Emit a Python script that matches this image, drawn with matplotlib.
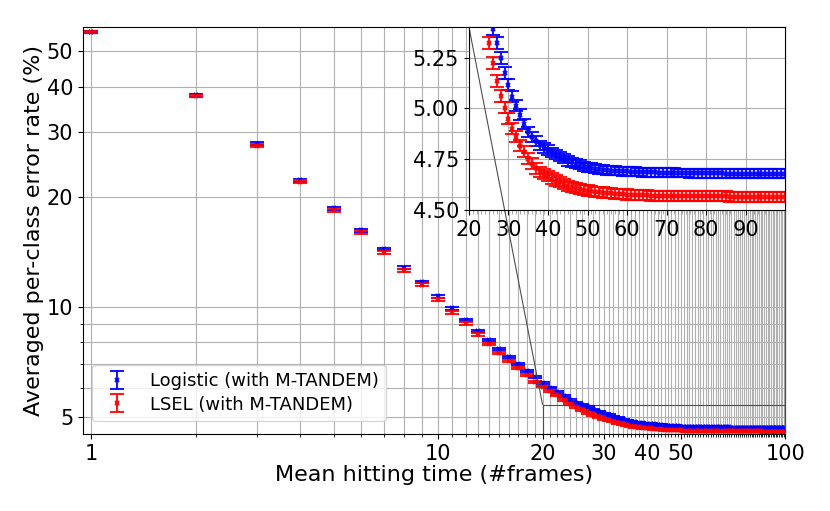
import matplotlib
matplotlib.use("Agg")
import matplotlib.pyplot as plt
from matplotlib.ticker import FixedLocator, NullFormatter, FixedFormatter
from mpl_toolkits.axes_grid1.inset_locator import mark_inset

hitting_time = list(range(1, 101))

logistic_err_rate = [
    56.4, 37.9, 27.9, 22.2, 18.6, 16.2, 14.4, 12.8, 11.7, 10.7,
    9.92, 9.22, 8.61, 8.12, 7.67, 7.31, 6.97, 6.68, 6.43, 6.19,
    6.02, 5.85, 5.70, 5.57, 5.47, 5.39, 5.322, 5.248, 5.175, 5.116,
    5.057, 5.013, 4.969, 4.925, 4.885, 4.860, 4.838, 4.818, 4.805, 4.795,
    4.784, 4.773, 4.763, 4.752, 4.742, 4.735, 4.728, 4.722, 4.716, 4.711,
    4.707, 4.703, 4.700, 4.698, 4.696, 4.694, 4.693, 4.692, 4.691, 4.690,
    4.689, 4.688, 4.687, 4.686, 4.686, 4.685, 4.685, 4.684, 4.684, 4.683,
    4.683, 4.683, 4.682, 4.682, 4.682, 4.681, 4.681, 4.681, 4.681, 4.680,
    4.680, 4.680, 4.680, 4.680, 4.679, 4.679, 4.679, 4.679, 4.679, 4.679,
    4.678, 4.678, 4.678, 4.678, 4.678, 4.678, 4.678, 4.678, 4.678, 4.678,
]

lsel_err_rate = [
    56.4, 37.7, 27.6, 22.0, 18.4, 16.0, 14.1, 12.6, 11.5, 10.5,
    9.67, 9.02, 8.42, 7.92, 7.50, 7.12, 6.80, 6.52, 6.25, 6.06,
    5.89, 5.73, 5.57, 5.43, 5.32, 5.222, 5.135, 5.062, 5.003, 4.949,
    4.900, 4.861, 4.817, 4.787, 4.753, 4.728, 4.705, 4.688, 4.676, 4.666,
    4.655, 4.645, 4.636, 4.628, 4.619, 4.613, 4.608, 4.603, 4.599, 4.596,
    4.593, 4.590, 4.588, 4.586, 4.584, 4.582, 4.580, 4.579, 4.578, 4.576,
    4.575, 4.574, 4.573, 4.572, 4.572, 4.571, 4.571, 4.570, 4.570, 4.569,
    4.569, 4.569, 4.568, 4.568, 4.568, 4.568, 4.568, 4.567, 4.567, 4.567,
    4.567, 4.567, 4.567, 4.567, 4.567, 4.566, 4.566, 4.566, 4.566, 4.566,
    4.566, 4.566, 4.566, 4.566, 4.566, 4.566, 4.566, 4.566, 4.566, 4.566,
]

logistic_std = [
    0.35, 0.30, 0.25, 0.20, 0.17, 0.15, 0.13, 0.11, 0.10, 0.09,
    0.08, 0.07, 0.065, 0.06, 0.055, 0.05, 0.045, 0.04, 0.038, 0.036,
    0.034, 0.032, 0.031, 0.030, 0.030, 0.029, 0.029, 0.028, 0.028, 0.027,
    0.027, 0.026, 0.026, 0.025, 0.025, 0.025, 0.024, 0.024, 0.024, 0.024,
    0.023, 0.023, 0.023, 0.023, 0.023, 0.023, 0.022, 0.022, 0.022, 0.022,
    0.022, 0.022, 0.022, 0.022, 0.022, 0.022, 0.022, 0.022, 0.022, 0.022,
    0.022, 0.022, 0.022, 0.022, 0.022, 0.022, 0.022, 0.022, 0.022, 0.022,
    0.022, 0.022, 0.022, 0.022, 0.022, 0.022, 0.022, 0.022, 0.022, 0.022,
    0.022, 0.022, 0.022, 0.022, 0.022, 0.022, 0.022, 0.022, 0.022, 0.022,
    0.022, 0.022, 0.022, 0.022, 0.022, 0.022, 0.022, 0.022, 0.022, 0.022,
]

lsel_std = [
    0.35, 0.30, 0.25, 0.20, 0.17, 0.15, 0.13, 0.11, 0.10, 0.09,
    0.08, 0.07, 0.065, 0.06, 0.055, 0.05, 0.045, 0.04, 0.038, 0.036,
    0.034, 0.032, 0.031, 0.030, 0.030, 0.030, 0.029, 0.029, 0.028, 0.028,
    0.028, 0.027, 0.027, 0.027, 0.026, 0.026, 0.026, 0.026, 0.025, 0.025,
    0.025, 0.025, 0.025, 0.025, 0.025, 0.025, 0.025, 0.025, 0.025, 0.025,
    0.025, 0.025, 0.025, 0.025, 0.025, 0.025, 0.025, 0.025, 0.025, 0.025,
    0.025, 0.025, 0.025, 0.025, 0.025, 0.025, 0.025, 0.025, 0.025, 0.025,
    0.025, 0.025, 0.025, 0.025, 0.025, 0.025, 0.025, 0.025, 0.025, 0.025,
    0.025, 0.025, 0.025, 0.025, 0.025, 0.025, 0.025, 0.025, 0.025, 0.025,
    0.025, 0.025, 0.025, 0.025, 0.025, 0.025, 0.025, 0.025, 0.025, 0.025,
]

series_labels = ["Logistic (with M-TANDEM)", "LSEL (with M-TANDEM)"]
main_xtick_labels = [1, 10, 20, 30, 40, 50, 100]
main_ytick_labels = [5, 10, 20, 30, 40, 50]
main_yminor = [6, 7, 8, 9]
inset_xticks = [20, 30, 40, 50, 60, 70, 80, 90]
inset_yticks = [4.50, 4.75, 5.00, 5.25]

fig = plt.figure(figsize=(8.3, 5.11), dpi=100)
ax = fig.add_axes([0.100, 0.151, 0.846, 0.796])

eb_kw = dict(fmt='x', markersize=3, markeredgewidth=1.5, capsize=5,
             elinewidth=1.5, capthick=1.5, alpha=0.9)

def draw(a):
    a.errorbar(hitting_time, logistic_err_rate, yerr=logistic_std, color='b',
               label=series_labels[0], **eb_kw)
    a.errorbar(hitting_time, lsel_err_rate, yerr=lsel_std, color='r',
               label=series_labels[1], **eb_kw)

draw(ax)
ax.set_xscale('log')
ax.set_yscale('log')
ax.set_xlim(0.948, 100)
ax.set_ylim(4.5, 58.2)

ax.xaxis.set_major_locator(FixedLocator(main_xtick_labels))
ax.xaxis.set_major_formatter(FixedFormatter([str(v) for v in main_xtick_labels]))
ax.xaxis.set_minor_locator(FixedLocator(hitting_time))
ax.xaxis.set_minor_formatter(NullFormatter())
ax.yaxis.set_major_locator(FixedLocator(main_ytick_labels))
ax.yaxis.set_major_formatter(FixedFormatter([str(v) for v in main_ytick_labels]))
ax.yaxis.set_minor_locator(FixedLocator(main_yminor))
ax.yaxis.set_minor_formatter(NullFormatter())
ax.grid(True, which='both', color='#b0b0b0', linewidth=0.8)
ax.set_axisbelow(True)
ax.tick_params(axis='both', which='major', labelsize=15)

ax.set_xlabel("Mean hitting time (#frames)", fontsize=16, labelpad=1)
ax.set_ylabel("Averaged per-class error rate (%)", fontsize=16, labelpad=2)
ax.legend(loc='lower left', fontsize=13, bbox_to_anchor=(0.0, 0.01),
          labelspacing=0.3)

axins = fig.add_axes([0.565, 0.589, 0.381, 0.358])
draw(axins)
axins.set_xlim(20, 100)
axins.set_ylim(4.5, 5.4)
axins.set_xticks(inset_xticks)
axins.set_xticks(hitting_time[19:], minor=True)
axins.set_yticks(inset_yticks)
axins.set_yticklabels([f"{v:.2f}" for v in inset_yticks])
axins.tick_params(axis='both', which='major', labelsize=15)
axins.tick_params(axis='x', which='minor', length=3, color='0.6')
axins.grid(True, which='major', color='#b0b0b0', linewidth=0.8)
axins.set_axisbelow(True)

mark_inset(ax, axins, loc1=2, loc2=4, fc="none", ec="0.3", lw=0.8)

fig.savefig("out.png", dpi=100)
